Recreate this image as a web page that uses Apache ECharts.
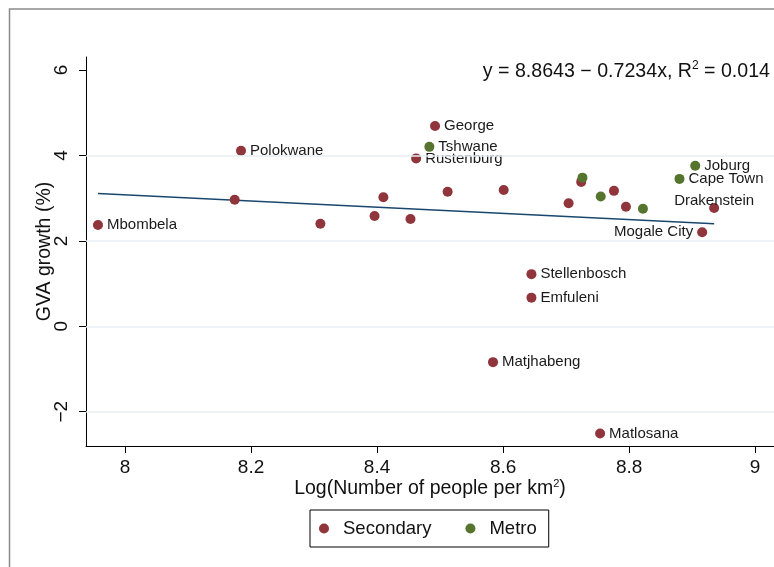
<!DOCTYPE html>
<html>
<head>
<meta charset="utf-8">
<title>GVA growth vs density</title>
<script src="https://cdn.jsdelivr.net/npm/echarts@6/dist/echarts.min.js"></script>
<style>
  html, body { margin: 0; padding: 0; background: #fff; }
  #chart { width: 774px; height: 567px; }
</style>
</head>
<body>
<div id="chart"></div>
<script>
// secondary cities
const secNames = ['Mbombela', '', 'Polokwane', '', '', '', '', 'Rustenburg', 'George', '', '',
  'Stellenbosch', 'Emfuleni', 'Matjhabeng', '', '', '', '', 'Matlosana', 'Mogale City', 'Drakenstein']
const secX = [7.957, 8.174, 8.184, 8.310, 8.396, 8.410, 8.453, 8.462, 8.492, 8.512, 8.601,
  8.645, 8.645, 8.584, 8.704, 8.724, 8.776, 8.795, 8.754, 8.916, 8.935]
const secY = [2.37, 2.96, 4.11, 2.40, 2.58, 3.02, 2.51, 3.93, 4.69, 3.15, 3.19,
  1.22, 0.67, -0.84, 2.88, 3.38, 3.17, 2.80, -2.51, 2.20, 2.77]

// metros
const metroNames = ['Tshwane', '', '', '', 'Cape Town', 'Joburg']
const metroX = [8.483, 8.726, 8.755, 8.822, 8.880, 8.905]
const metroY = [4.20, 3.48, 3.04, 2.75, 3.45, 3.76]

// fitted line end points (y = 8.8643 - 0.7234x)
const fitX = [7.957, 8.935]
const fitY = [3.108, 2.400]

const xTicks = [8, 8.2, 8.4, 8.6, 8.8, 9]
const yTicks = [-2, 0, 2, 4, 6]
const yGrid = [-2, 0, 2, 4]

const FONT = 'Liberation Sans, Arial, Helvetica, sans-serif'
const RED = '#90353b'
const GREEN = '#55752f'

// label side for a few points
const labelSide = { 'Mogale City': 'left', 'Drakenstein': 'above' }

function pointData(xs, ys, names) {
  return xs.map((x, i) => {
    const item = { value: [x, ys[i]], name: names[i] }
    const side = labelSide[names[i]]
    if (side === 'left') item.label = { position: 'left', distance: 4 }
    if (side === 'above') item.label = { position: 'inside', offset: [0, -7] }
    return item
  })
}

const pointLabel = {
  show: true,
  position: 'right',
  distance: 4,
  formatter: '{b}',
  color: '#1a1a1a',
  fontSize: 15,
  fontFamily: FONT
}

const chart = echarts.init(document.getElementById('chart'))

chart.setOption({
  animation: false,
  textStyle: { fontFamily: FONT },
  graphic: [{
    type: 'rect',
    shape: { x: 9.5, y: 9, width: 800, height: 600 },
    style: { fill: 'none', stroke: '#8a8a8a', lineWidth: 1.5 },
    silent: true
  }],
  title: {
    text: '{a|y = 8.8643 − 0.7234x, R}{sup|2}{a| = 0.014}',
    right: -1,
    top: 55,
    textStyle: {
      fontWeight: 'normal',
      rich: {
        a: { fontSize: 19.6, fontWeight: 'normal', color: '#111', fontFamily: FONT },
        sup: { fontSize: 12, fontWeight: 'normal', color: '#111', fontFamily: FONT, padding: [0, 0, 12, 0] }
      }
    }
  },
  grid: { left: 86, top: 57, right: 0, bottom: 121 },
  xAxis: {
    type: 'value',
    min: 7.938,
    max: 9.03,
    name: 'Log(Number of people per km{sup|2})',
    nameLocation: 'middle',
    nameGap: 32,
    nameMoveOverlap: false,
    nameTextStyle: {
      fontSize: 19.5,
      color: '#111',
      fontFamily: FONT,
      rich: {
        sup: { fontSize: 11, color: '#111', fontFamily: FONT, padding: [0, 0, 11, 0] }
      }
    },
    axisLine: { show: true, onZero: false, lineStyle: { color: '#000', width: 1 } },
    axisTick: { show: true, length: 7, customValues: xTicks, lineStyle: { color: '#000' } },
    axisLabel: { customValues: xTicks, fontSize: 19, color: '#111', margin: 12, fontFamily: FONT },
    splitLine: { show: false }
  },
  yAxis: {
    type: 'value',
    min: -2.803,
    max: 6.304,
    name: 'GVA growth (%)',
    nameLocation: 'middle',
    nameGap: 31,
    nameMoveOverlap: false,
    nameRotate: 90,
    nameTextStyle: { fontSize: 19.5, color: '#111', fontFamily: FONT },
    axisLine: { show: true, onZero: false, lineStyle: { color: '#000', width: 1 } },
    axisTick: { show: true, length: 7, customValues: yTicks, lineStyle: { color: '#000' } },
    axisLabel: {
      customValues: yTicks,
      rotate: 90,
      fontSize: 19,
      color: '#111',
      margin: 15,
      fontFamily: FONT,
      formatter: v => String(v).replace('-', '\u2212')
    },
    splitLine: { show: false }
  },
  legend: {
    left: 310,
    top: 510,
    orient: 'horizontal',
    padding: [9, 12, 9, 9],
    itemWidth: 22,
    itemHeight: 10,
    itemGap: 34,
    borderColor: '#000',
    borderWidth: 1,
    icon: 'circle',
    textStyle: { fontSize: 18.5, color: '#111', fontFamily: FONT, padding: [0, 0, 0, 3] },
    data: ['Secondary', 'Metro']
  },
  series: [
    {
      name: 'Fit',
      type: 'line',
      data: fitX.map((x, i) => [x, fitY[i]]),
      showSymbol: false,
      lineStyle: { color: '#1a476f', width: 1.5 },
      z: 1,
      silent: true,
      markLine: {
        silent: true,
        symbol: 'none',
        label: { show: false },
        lineStyle: { color: '#e6eef2', width: 1.5, type: 'solid' },
        data: yGrid.map(v => ({ yAxis: v }))
      }
    },
    {
      name: 'Secondary',
      type: 'scatter',
      symbolSize: 10,
      itemStyle: { color: RED, opacity: 1 },
      label: pointLabel,
      data: pointData(secX, secY, secNames),
      z: 3
    },
    {
      name: 'Metro',
      type: 'scatter',
      symbolSize: 10,
      itemStyle: { color: GREEN, opacity: 1 },
      label: pointLabel,
      data: pointData(metroX, metroY, metroNames),
      z: 4
    }
  ]
})

window.addEventListener('resize', () => chart.resize())
</script>
</body>
</html>
